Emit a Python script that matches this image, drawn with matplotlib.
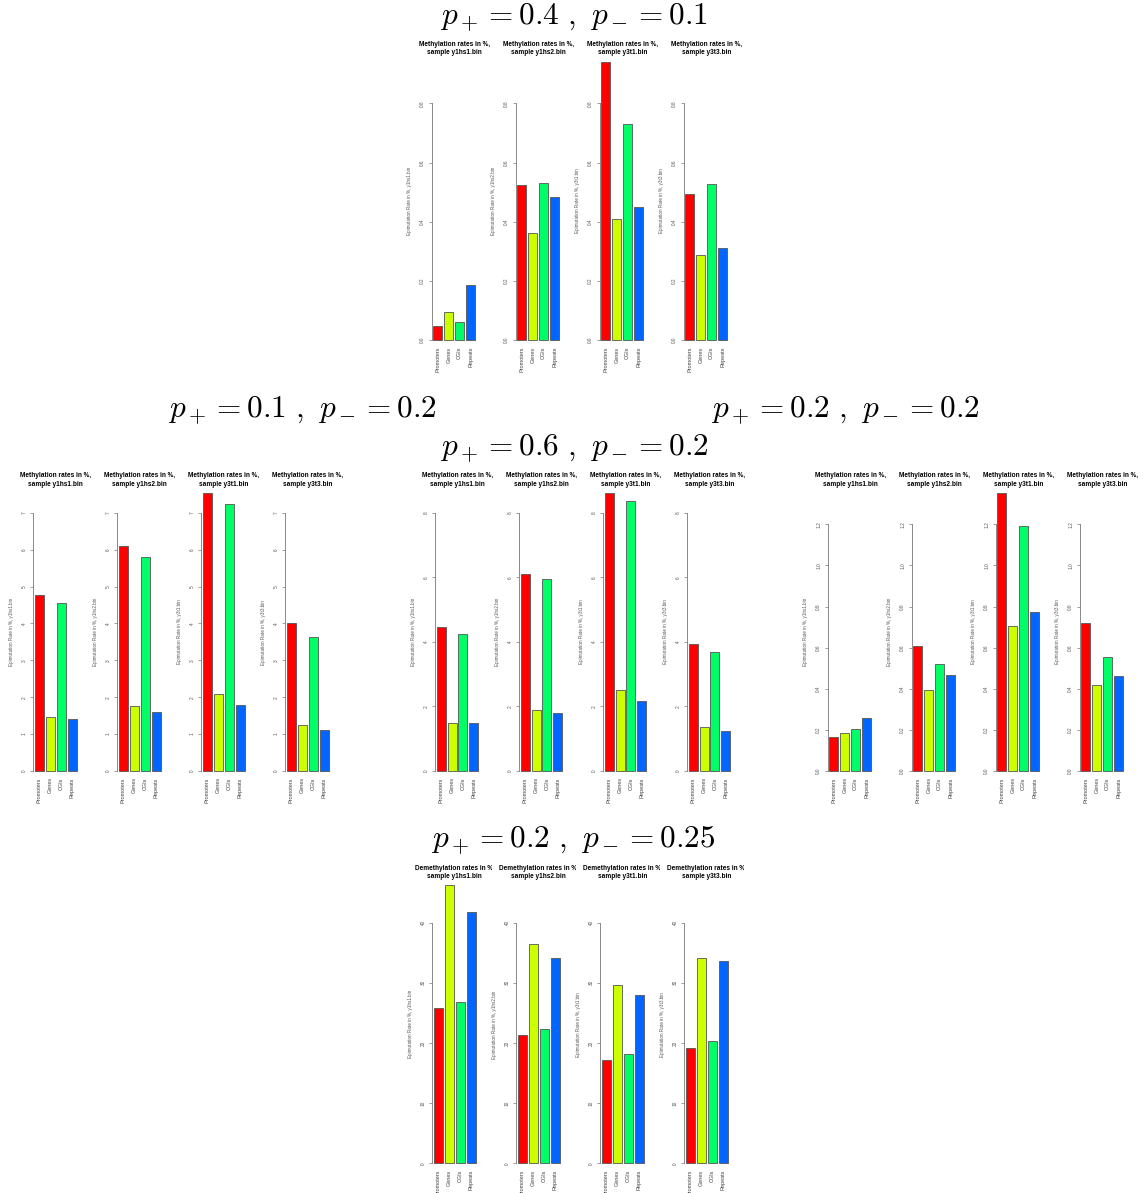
import numpy as np
import matplotlib
matplotlib.use("Agg")
import matplotlib.pyplot as plt
from matplotlib.transforms import Bbox

W, H = 1143, 1193
plt.rcParams["mathtext.fontset"] = "cm"
plt.rcParams["font.family"] = ["Liberation Sans", "DejaVu Sans"]

regions = ["Promoters", "Genes", "CGIs", "Repeats"]
samples = ["y1hs1", "y1hs2", "y3t1", "y3t3"]
colors = ["#FF0000", "#CCFF00", "#00FF66", "#0066FF"]

# p+ = 0.4, p- = 0.1
top_vals = [[0.047, 0.097, 0.063, 0.187],
            [0.525, 0.361, 0.530, 0.485],
            [0.941, 0.408, 0.729, 0.449],
            [0.494, 0.287, 0.527, 0.313]]
top_ticks = [0.0, 0.2, 0.4, 0.6, 0.8]
top_labels = ["0.0", "0.2", "0.4", "0.6", "0.8"]

# p+ = 0.1, p- = 0.2
left_vals = [[4.76, 1.47, 4.55, 1.41],
             [6.09, 1.75, 5.79, 1.59],
             [7.53, 2.08, 7.24, 1.79],
             [4.02, 1.26, 3.64, 1.11]]
left_ticks = [0, 1, 2, 3, 4, 5, 6, 7]
left_labels = ["0", "1", "2", "3", "4", "5", "6", "7"]

# p+ = 0.6, p- = 0.2
mid_vals = [[4.45, 1.49, 4.23, 1.48],
            [6.11, 1.88, 5.94, 1.80],
            [8.61, 2.50, 8.36, 2.17],
            [3.92, 1.35, 3.69, 1.23]]
mid_ticks = [0, 2, 4, 6, 8]
mid_labels = ["0", "2", "4", "6", "8"]

# p+ = 0.2, p- = 0.2
right_vals = [[0.164, 0.183, 0.203, 0.256],
              [0.608, 0.396, 0.521, 0.469],
              [1.352, 0.707, 1.190, 0.772],
              [0.718, 0.417, 0.553, 0.461]]
right_ticks = [0.0, 0.2, 0.4, 0.6, 0.8, 1.0, 1.2]
right_labels = ["0.0", "0.2", "0.4", "0.6", "0.8", "1.0", "1.2"]

# p+ = 0.2, p- = 0.25 (demethylation)
bot_vals = [[25.9, 46.2, 26.8, 41.8],
            [21.4, 36.4, 22.3, 34.1],
            [17.2, 29.6, 18.1, 27.9],
            [19.2, 34.1, 20.4, 33.7]]
bot_ticks = [0, 10, 20, 30, 40]
bot_labels = ["0", "10", "20", "30", "40"]

fig = plt.figure(figsize=(W / 100, H / 100), dpi=100)
centers = 0.7 + 1.2 * np.arange(4)


def panel(head, head_xy, kind, vals, ticks, ticklabels, x0, zero_y, tick_y, title_y, step=84, aw=45):
    fig.text(head_xy[0] / W, 1 - head_xy[1] / H, head, fontsize=22.5, ha="center", va="center")
    top = ticks[-1]
    gmax = max(max(v) for v in vals)
    h = zero_y - tick_y
    for i, (s, v) in enumerate(zip(samples, vals)):
        ax_x = x0 + i * step
        ax = fig.add_axes([ax_x / W, 1 - zero_y / H, aw / W, h / H])
        ax.bar(centers, v, width=1, color=colors, edgecolor="#555555", linewidth=0.6, clip_on=False)
        ax.set_xlim(0.016, 4.984)
        ax.set_ylim(0, top)
        for sp in ["top", "right", "bottom"]:
            ax.spines[sp].set_visible(False)
        ax.spines["left"].set_bounds(0, top)
        ax.spines["left"].set_color("#777777")
        ax.spines["left"].set_linewidth(0.6)
        ax.patch.set_visible(False)
        ax.set_yticks(ticks, ticklabels)
        ax.tick_params(axis="y", length=2.2, width=0.5, color="#777777", labelsize=3.4,
                       labelcolor="#555555", pad=2.5, labelrotation=90)
        for lab in ax.get_yticklabels():
            lab.set_va("center")
        ax.set_xticks(centers, regions, rotation=90, fontsize=4, color="#444444")
        ax.tick_params(axis="x", length=0, pad=4.5)
        ax.set_ylabel(f"Epimutation Rate in %, {s}.bin", fontsize=3.3, color="#555555")
        ax.yaxis.set_label_coords(-22 / aw, 0.5 * gmax / top)
        ax.yaxis.label.set_va("center")
        t = fig.text((ax_x + 22.5) / W, 1 - title_y / H,
                     f"{kind} rates in %,\nsample {s}.bin",
                     fontsize=4.7, fontweight="bold", ha="center", va="center", linespacing=1.3)
        # each R sub-figure clips its title to its own region
        t.set_clip_on(True)
        t.set_clip_box(Bbox.from_extents(ax_x - 19, 0, ax_x + 60, H))


panel(r"$p_+ = 0.4\ ,\ p_- = 0.1$", (574, 17), "Methylation", top_vals, top_ticks, top_labels,
      431.7, 340.3, 103.3, 48.7)
panel(r"$p_+ = 0.1\ ,\ p_- = 0.2$", (302, 410), "Methylation", left_vals, left_ticks, left_labels,
      33.3, 771, 512.7, 480)
panel(r"$p_+ = 0.6\ ,\ p_- = 0.2$", (574, 448), "Methylation", mid_vals, mid_ticks, mid_labels,
      435, 771, 512.7, 480)
panel(r"$p_+ = 0.2\ ,\ p_- = 0.2$", (845, 410), "Methylation", right_vals, right_ticks, right_labels,
      827.7, 771, 524.3, 480)
panel(r"$p_+ = 0.2\ ,\ p_- = 0.25$", (573.5, 840), "Demethylation", bot_vals, bot_ticks, bot_labels,
      432.3, 1163.3, 922.7, 872.7)

fig.savefig("out.png", dpi=100)
